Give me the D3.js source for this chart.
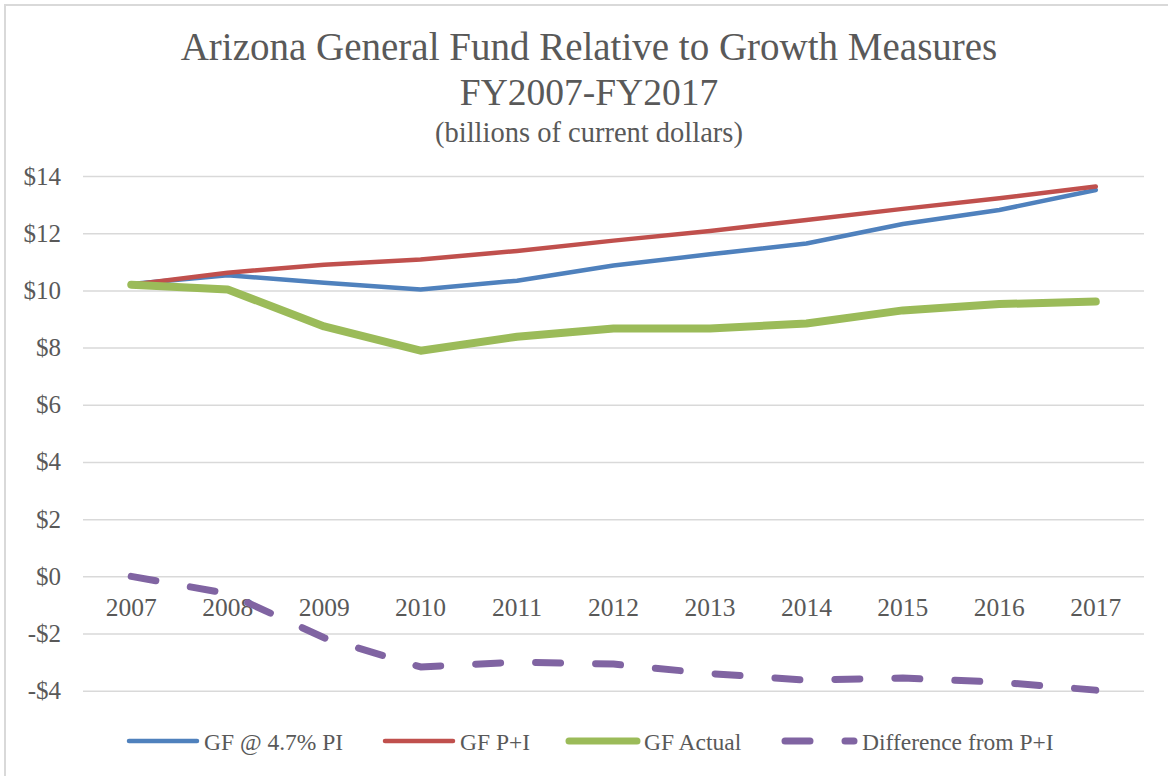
<!DOCTYPE html>
<html>
<head>
<meta charset="utf-8">
<script src="https://cdn.jsdelivr.net/npm/d3@7"></script>
<style>
  body { margin: 0; background: #fff; }
  text { font-family: "Liberation Serif", "DejaVu Serif", serif; fill: #595959; }
</style>
</head>
<body>
<div id="chart"></div>
<script>
// values (billions of current dollars)
let years = ['2007', '2008', '2009', '2010', '2011', '2012', '2013', '2014', '2015', '2016', '2017'];
let gfPI = [10.22, 10.53, 10.27, 10.03, 10.34, 10.87, 11.26, 11.64, 12.32, 12.81, 13.51];
let gfPlusI = [10.2, 10.62, 10.9, 11.08, 11.38, 11.74, 12.08, 12.46, 12.85, 13.22, 13.63];
let gfActual = [10.2, 10.03, 8.74, 7.89, 8.38, 8.67, 8.67, 8.84, 9.3, 9.52, 9.61];
let diffPlusI = [0, -0.6, -2.15, -3.17, -3.0, -3.07, -3.4, -3.63, -3.56, -3.7, -3.98];
let yTicks = [-4, -2, 0, 2, 4, 6, 8, 10, 12, 14];
let titleLines = ['Arizona General Fund Relative to Growth Measures', 'FY2007-FY2017', '(billions of current dollars)'];

let series = [
    {name: 'GF @ 4.7% PI', values: gfPI, color: '#4f81bd', width: 4.5, dash: null},
    {name: 'GF P+I', values: gfPlusI, color: '#c0504d', width: 4.5, dash: null},
    {name: 'GF Actual', values: gfActual, color: '#9bbb59', width: 8, dash: null},
    {name: 'Difference from P+I', values: diffPlusI, color: '#8064a2', width: 7, dash: '25,35'}
];

let width = 1168, height = 776;
let svg = d3.select('#chart').append('svg').attr('width', width).attr('height', height);

// chart area frame (only top/left visible in the crop)
svg.append('rect').
    attr('x', 5).attr('y', 5).
    attr('width', 1300).attr('height', 900).
    attr('fill', 'none').attr('stroke', '#d9d9d9').attr('stroke-width', 2);

let x = d3.scaleBand().domain(years).range([83, 1144]);
let y = d3.scaleLinear().domain([-4, 14]).range([690.7, 176]);

// title
let title = svg.append('g').attr('text-anchor', 'middle');
title.append('text').attr('x', 589).attr('y', 60).style('font-size', '39px').text(titleLines[0]);
title.append('text').attr('x', 589).attr('y', 105).style('font-size', '37.5px').text(titleLines[1]);
title.append('text').attr('x', 589).attr('y', 142).style('font-size', '28.5px').text(titleLines[2]);

// gridlines + y labels
let yAxis = d3.axisLeft(y).
    tickValues(yTicks).
    tickSize(-(1144 - 83)).
    tickPadding(22).
    tickFormat(d => (d < 0 ? '-' : '') + '$' + Math.abs(d));

svg.append('g').
    attr('transform', 'translate(83,0)').
    call(yAxis).
    call(g => g.select('.domain').remove()).
    call(g => g.selectAll('line').attr('stroke', '#d9d9d9').attr('stroke-width', 1.5)).
    call(g => g.selectAll('text').attr('fill', '#595959').style('font-size', '25px').style('font-family', '"Liberation Serif", serif'));

// category labels sit just under the $0 line
let xAxis = d3.axisBottom(x).tickSize(0).tickPadding(22);
svg.append('g').
    attr('transform', 'translate(0,' + y(0) + ')').
    call(xAxis).
    call(g => g.select('.domain').remove()).
    call(g => g.selectAll('text').attr('fill', '#595959').style('font-size', '25.5px').style('font-family', '"Liberation Serif", serif'));

let line = d3.line().
    x((d, i) => x(years[i]) + x.bandwidth() / 2).
    y(d => y(d));

svg.selectAll('path.series').
    data(series).
    enter().
    append('path').
    attr('class', 'series').
    attr('d', s => line(s.values)).
    attr('fill', 'none').
    attr('stroke', s => s.color).
    attr('stroke-width', s => s.width).
    attr('stroke-linecap', 'round').
    attr('stroke-linejoin', 'round').
    attr('stroke-dasharray', s => s.dash);

// legend
let legendX = [127, 383, 567, 785];
let legend = svg.selectAll('g.legend').
    data(series).
    enter().
    append('g').
    attr('class', 'legend').
    attr('transform', (s, i) => 'translate(' + legendX[i] + ',741)');

legend.append('line').
    attr('x1', s => s.dash ? 0 : 2).
    attr('x2', s => s.dash ? 69 : 70).
    attr('y1', 0).attr('y2', 0).
    attr('stroke', s => s.color).
    attr('stroke-width', s => Math.min(s.width, 7)).
    attr('stroke-linecap', 'round').
    attr('stroke-dasharray', s => s.dash);

legend.append('text').
    attr('x', 77).
    attr('y', 9).
    style('font-size', '23.5px').
    text(s => s.name);
</script>
</body>
</html>
